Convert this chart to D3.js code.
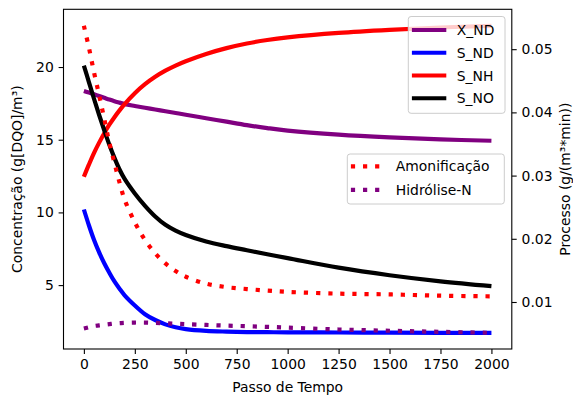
<!DOCTYPE html>
<html>
<head>
<meta charset="utf-8">
<script src="https://cdn.jsdelivr.net/npm/d3@7"></script>
<style>
  html, body { margin: 0; padding: 0; background: #fff; }
  svg { display: block; font-family: "DejaVu Sans", sans-serif; }
</style>
</head>
<body>
<svg id="chart" width="573" height="397"></svg>
<script>
// Simulation time steps
const steps = [0, 25, 50, 75, 100, 125, 150, 175, 200, 250, 300, 350, 400, 450, 500,
               600, 700, 800, 900, 1000, 1250, 1500, 1750, 2000];

// Concentrations, g[DQO]/m³ (left axis)
const xND = [18.35, 18.24, 18.12, 18.0, 17.88, 17.76, 17.65, 17.55, 17.45, 17.32, 17.2, 17.08, 16.96, 16.84, 16.72,
             16.48, 16.24, 16.0, 15.8, 15.63, 15.35, 15.16, 15.02, 14.93];
const sND = [10.2, 9.1, 8.1, 7.25, 6.5, 5.85, 5.25, 4.75, 4.3, 3.6, 3.0, 2.6, 2.3, 2.1, 1.97,
             1.85, 1.8, 1.77, 1.76, 1.75, 1.74, 1.73, 1.72, 1.72];
const sNH = [12.45, 13.3, 14.1, 14.8, 15.45, 16.03, 16.55, 17.02, 17.45, 18.2, 18.82, 19.33, 19.75, 20.1, 20.4,
             20.9, 21.3, 21.62, 21.86, 22.04, 22.35, 22.56, 22.72, 22.83];
const sNO = [20.1, 18.95, 17.8, 16.7, 15.65, 14.65, 13.75, 12.95, 12.3, 11.3, 10.45, 9.72, 9.15, 8.75, 8.45,
             8.0, 7.68, 7.4, 7.12, 6.86, 6.2, 5.68, 5.26, 4.93];

// Process rates, g/(m³*min) (right axis)
const amonificacao = [0.0537, 0.0502, 0.0463, 0.0427, 0.0390, 0.0352, 0.0320, 0.0289, 0.0262, 0.0226, 0.0198, 0.0177, 0.0161, 0.0149, 0.0140,
                      0.0129, 0.01235, 0.01205, 0.0118, 0.0116, 0.01132, 0.0112, 0.0110, 0.0109];
const hidroliseN = [0.0058, 0.0060, 0.0062, 0.0063, 0.0064, 0.0065, 0.0066, 0.00665, 0.0067, 0.00675, 0.00675, 0.0067, 0.00664, 0.00657, 0.0065,
                    0.00637, 0.00626, 0.00617, 0.00606, 0.00595, 0.00565, 0.00545, 0.00528, 0.00512];

const xTicks = [0, 250, 500, 750, 1000, 1250, 1500, 1750, 2000];
const yLeftTicks = [5, 10, 15, 20];
const yRightTicks = [0.01, 0.02, 0.03, 0.04, 0.05];

const leftSeries = [
  { name: "X_ND", values: xND, color: "purple" },
  { name: "S_ND", values: sND, color: "blue" },
  { name: "S_NH", values: sNH, color: "red" },
  { name: "S_NO", values: sNO, color: "black" }
];
const rightSeries = [
  { name: "Amonificação", values: amonificacao, color: "red" },
  { name: "Hidrólise-N", values: hidroliseN, color: "purple" }
];

const plot = { left: 63.5, right: 511.8, top: 9.3, bottom: 349 };
const fontSize = 13.9;
const lineW = 4.2;
const dots = "4.2 7.9";

const svg = d3.select("#chart");

const x = d3.scaleLinear().domain([-100, 2100]).range([plot.left, plot.right]);
const yL = d3.scaleLinear().domain([0.605, 23.97]).range([plot.bottom, plot.top]);
const yR = d3.scaleLinear().domain([0.002563, 0.05631]).range([plot.bottom, plot.top]);

svg.append("defs").append("clipPath").attr("id", "plotclip")
  .append("rect")
  .attr("x", plot.left).attr("y", plot.top)
  .attr("width", plot.right - plot.left).attr("height", plot.bottom - plot.top);

const smooth = d3.curveCatmullRom.alpha(0.5);
const lineL = vals => d3.line().x((d, i) => x(steps[i])).y(d => yL(d)).curve(smooth)(vals);
const lineR = vals => d3.line().x((d, i) => x(steps[i])).y(d => yR(d)).curve(smooth)(vals);

// Concentration curves
const gL = svg.append("g").attr("clip-path", "url(#plotclip)");
leftSeries.forEach(s => {
  gL.append("path")
    .attr("d", lineL(s.values))
    .attr("fill", "none")
    .attr("stroke", s.color)
    .attr("stroke-width", lineW);
});

// Legend helper
function legend(items, box, dashed) {
  const g = svg.append("g");
  g.append("rect")
    .attr("x", box.x).attr("y", box.y)
    .attr("width", box.w).attr("height", box.h)
    .attr("rx", 2.8).attr("ry", 2.8)
    .attr("fill", "rgba(255,255,255,0.8)")
    .attr("stroke", "#cccccc").attr("stroke-width", 1);
  items.forEach((s, i) => {
    const cy = box.firstRow + i * box.rowGap;
    g.append("line")
      .attr("x1", box.x + 3.6).attr("x2", box.x + 38)
      .attr("y1", cy).attr("y2", cy)
      .attr("stroke", s.color).attr("stroke-width", lineW)
      .attr("stroke-dasharray", dashed ? dots : null);
    g.append("text")
      .attr("x", box.x + 48.5).attr("y", cy + 5)
      .attr("font-size", fontSize).attr("fill", "#000")
      .text(s.name);
  });
}

legend(leftSeries, { x: 408.3, y: 16.5, w: 96.7, h: 96.8, firstRow: 30, rowGap: 22.75 }, false);

// Process rate curves (twin axis, drawn above)
const gR = svg.append("g").attr("clip-path", "url(#plotclip)");
rightSeries.forEach(s => {
  gR.append("path")
    .attr("d", lineR(s.values))
    .attr("fill", "none")
    .attr("stroke", s.color)
    .attr("stroke-width", lineW)
    .attr("stroke-dasharray", dots);
});

legend(rightSeries, { x: 347.3, y: 154, w: 157, h: 50, firstRow: 166.3, rowGap: 23.5 }, true);

// Axes
const tickLen = 4.9, tickPad = 4.86;
const gx = svg.append("g").attr("transform", `translate(0,${plot.bottom})`)
  .call(d3.axisBottom(x).tickValues(xTicks).tickFormat(d3.format("d")).tickSizeInner(tickLen).tickSizeOuter(0).tickPadding(tickPad));
const gyl = svg.append("g").attr("transform", `translate(${plot.left},0)`)
  .call(d3.axisLeft(yL).tickValues(yLeftTicks).tickFormat(d3.format("d")).tickSizeInner(tickLen).tickSizeOuter(0).tickPadding(tickPad));
const gyr = svg.append("g").attr("transform", `translate(${plot.right},0)`)
  .call(d3.axisRight(yR).tickValues(yRightTicks).tickFormat(d3.format(".2f")).tickSizeInner(tickLen).tickSizeOuter(0).tickPadding(tickPad));

[gx, gyl, gyr].forEach(g => {
  g.select(".domain").remove();
  g.selectAll(".tick line").attr("stroke", "#000").attr("stroke-width", 1.1);
  g.selectAll(".tick text").attr("font-size", fontSize).attr("fill", "#000")
    .attr("font-family", "DejaVu Sans, sans-serif");
});

// Frame
svg.append("rect")
  .attr("x", plot.left).attr("y", plot.top)
  .attr("width", plot.right - plot.left).attr("height", plot.bottom - plot.top)
  .attr("fill", "none").attr("stroke", "#000").attr("stroke-width", 1.1);

// Axis titles
svg.append("text")
  .attr("x", (plot.left + plot.right) / 2).attr("y", 392)
  .attr("text-anchor", "middle").attr("font-size", fontSize).attr("fill", "#000")
  .text("Passo de Tempo");

svg.append("text")
  .attr("transform", `translate(22.4,${(plot.top + plot.bottom) / 2}) rotate(-90)`)
  .attr("text-anchor", "middle").attr("font-size", fontSize).attr("fill", "#000")
  .text("Concentração (g[DQO]/m³)");

svg.append("text")
  .attr("transform", `translate(570,${(plot.top + plot.bottom) / 2}) rotate(-90)`)
  .attr("text-anchor", "middle").attr("font-size", fontSize).attr("fill", "#000")
  .text("Processo (g/(m³*min))");
</script>
</body>
</html>
